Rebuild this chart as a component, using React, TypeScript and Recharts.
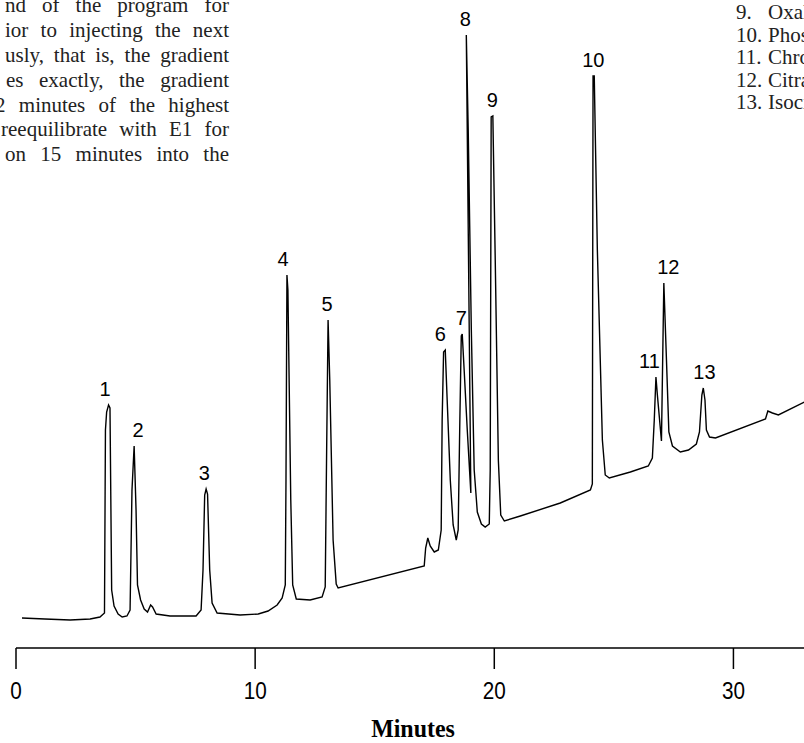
import React from 'react';
import { ComposedChart, Line, Scatter, XAxis, YAxis } from 'recharts';

// detector trace (minutes vs response)
const traceMinutes = [
  0.25, 1.21, 2.26, 3.1, 3.51, 3.7, 3.74, 3.79, 3.87, 3.93,
  4.0, 4.1, 4.27, 4.44, 4.64, 4.77, 4.85, 4.94, 5.02, 5.08,
  5.21, 5.36, 5.5, 5.63, 5.71, 5.86, 6.44, 7.53, 7.74, 7.82,
  7.89, 7.95, 8.01, 8.1, 8.2, 8.41, 9.37, 10.13, 10.54, 10.92,
  11.13, 11.26, 11.29, 11.33, 11.37, 11.49, 11.57, 11.72, 12.3, 12.8,
  12.93, 12.99, 13.05, 13.12, 13.26, 13.39, 13.47, 17.07, 17.13, 17.22,
  17.32, 17.49, 17.66, 17.78, 17.82, 17.88, 17.95, 18.03, 18.16, 18.28,
  18.41, 18.49, 18.56, 18.62, 18.66, 18.74, 18.87, 19.02, 18.83, 18.91,
  19.04, 19.16, 19.29, 19.46, 19.62, 19.79, 19.83, 19.87, 19.94, 20.04,
  20.17, 20.27, 20.42, 21.09, 22.76, 24.02, 24.1, 24.13, 24.18, 24.31,
  24.52, 24.64, 24.81, 25.69, 26.44, 26.61, 26.69, 26.76, 26.82, 26.99,
  27.09, 27.2, 27.3, 27.45, 27.78, 28.12, 28.45, 28.58, 28.68, 28.74,
  28.81, 28.87, 29.0, 29.25, 31.34, 31.44, 31.63, 31.88, 32.97,
];
const traceResponse = [
  30, 29, 28, 29, 31, 35, 218, 236, 243, 240,
  58, 42, 34, 31, 32, 38, 158, 202, 138, 63,
  48, 39, 36, 43, 41, 34, 32, 32, 38, 78,
  153, 159, 154, 78, 45, 35, 33, 34, 37, 43,
  50, 63, 168, 373, 358, 148, 63, 49, 48, 51,
  61, 198, 328, 268, 108, 64, 60, 82, 100, 110,
  102, 96, 98, 118, 228, 296, 298, 248, 168, 123,
  108, 118, 228, 312, 314, 278, 218, 155, 613, 518,
  318, 178, 136, 124, 121, 124, 178, 531, 532, 388,
  188, 133, 127, 132, 145, 158, 164, 572, 572, 398,
  208, 173, 170, 176, 182, 190, 228, 271, 253, 207,
  365, 288, 216, 202, 196, 198, 204, 216, 253, 260,
  248, 218, 211, 210, 229, 237, 235, 233, 246,
];

// peak numbers, where their labels sit (minutes) and the apex height
const peakIds = [1, 2, 3, 4, 5, 6, 7, 8, 9, 10, 11, 12, 13];
const peakLabelMinutes = [3.72, 5.1, 7.87, 11.17, 13.01, 17.74, 18.62, 18.79, 19.92, 24.14, 26.49, 27.28, 28.79];
const peakApex = [243, 202, 159, 373, 328, 298, 314, 613, 532, 572, 271, 365, 260];

const minuteTicks = [0, 10, 20, 30];

const paragraphLines = [
  'nd of the program for',
  'ior to injecting the next',
  'usly, that is, the gradient',
  'es exactly, the gradient',
  '2 minutes of the highest',
  'reequilibrate with E1 for',
  'on 15 minutes into the',
];
const paragraphStart = [5, 5, 5, 6, -5, 1, 5];

const legendNumbers = ['9.', '10.', '11.', '12.', '13.'];
const legendNames = ['Oxalate', 'Phosphate', 'Chromate', 'Citrate', 'Isocitrate'];

const trace = traceMinutes.map((t, i) => ({ t, v: traceResponse[i] }));
const peaks = peakIds.map((id, i) => ({ id, t: peakLabelMinutes[i], v: peakApex[i] }));

const serif = "'Liberation Serif', 'Times New Roman', serif";
const sans = "'Liberation Sans', Arial, sans-serif";

const MinuteTick = (props: any) => {
  const { x, y, payload } = props;
  return (
    <g transform={`translate(${x},${y})`}>
      <text x={0} y={0} dy={28} textAnchor="middle" fontFamily={sans} fontSize={23} fill="#000" transform="scale(0.9,1)">
        {payload.value}
      </text>
    </g>
  );
};

const PeakLabel = (props: any) => {
  const { cx, cy, payload } = props;
  return (
    <text x={cx} y={cy - 9} textAnchor="middle" fontFamily={sans} fontSize={20} fill="#000">
      {payload.id}
    </text>
  );
};

export default function App() {
  return (
    <div style={{ position: 'absolute', left: 0, top: 0, width: 804, height: 743, overflow: 'hidden', background: '#fff' }}>
      <ComposedChart width={853} height={743} margin={{ top: 0, right: 0, bottom: 0, left: 16 }}>
        <XAxis
          type="number"
          dataKey="t"
          domain={[0, 35]}
          ticks={minuteTicks}
          interval={0}
          height={95}
          tickSize={21}
          axisLine={{ stroke: '#000', strokeWidth: 1.5 }}
          tickLine={{ stroke: '#000', strokeWidth: 1.5 }}
          tick={<MinuteTick />}
        />
        <YAxis type="number" dataKey="v" domain={[0, 648]} hide />
        <Line
          data={trace}
          dataKey="v"
          type="linear"
          stroke="#000"
          strokeWidth={1.4}
          dot={false}
          isAnimationActive={false}
        />
        <Scatter data={peaks} dataKey="v" shape={<PeakLabel />} isAnimationActive={false} />
      </ComposedChart>

      {paragraphLines.map((line, i) => (
        <div
          key={line}
          style={{
            position: 'absolute',
            left: paragraphStart[i],
            top: 13 + i * 24.8 - 17.6,
            width: 229 - paragraphStart[i],
            font: `21px ${serif}`,
            lineHeight: '21px',
            textAlign: 'justify',
            textAlignLast: 'justify',
            color: '#222',
          }}
        >
          {line}
        </div>
      ))}

      {legendNumbers.map((n, i) => (
        <div
          key={n}
          style={{
            position: 'absolute',
            left: 736,
            top: 2 + i * 22.5,
            font: `21px ${serif}`,
            lineHeight: '21px',
            whiteSpace: 'nowrap',
            color: '#222',
          }}
        >
          <span style={{ display: 'inline-block', width: 32 }}>{n}</span>
          {legendNames[i]}
        </div>
      ))}

      <div
        style={{
          position: 'absolute',
          left: 413,
          top: 739 - 23,
          transform: 'translateX(-50%) scaleX(0.92)',
          font: `bold 26px ${serif}`,
          lineHeight: '26px',
          whiteSpace: 'nowrap',
          color: '#000',
        }}
      >
        Minutes
      </div>
    </div>
  );
}
